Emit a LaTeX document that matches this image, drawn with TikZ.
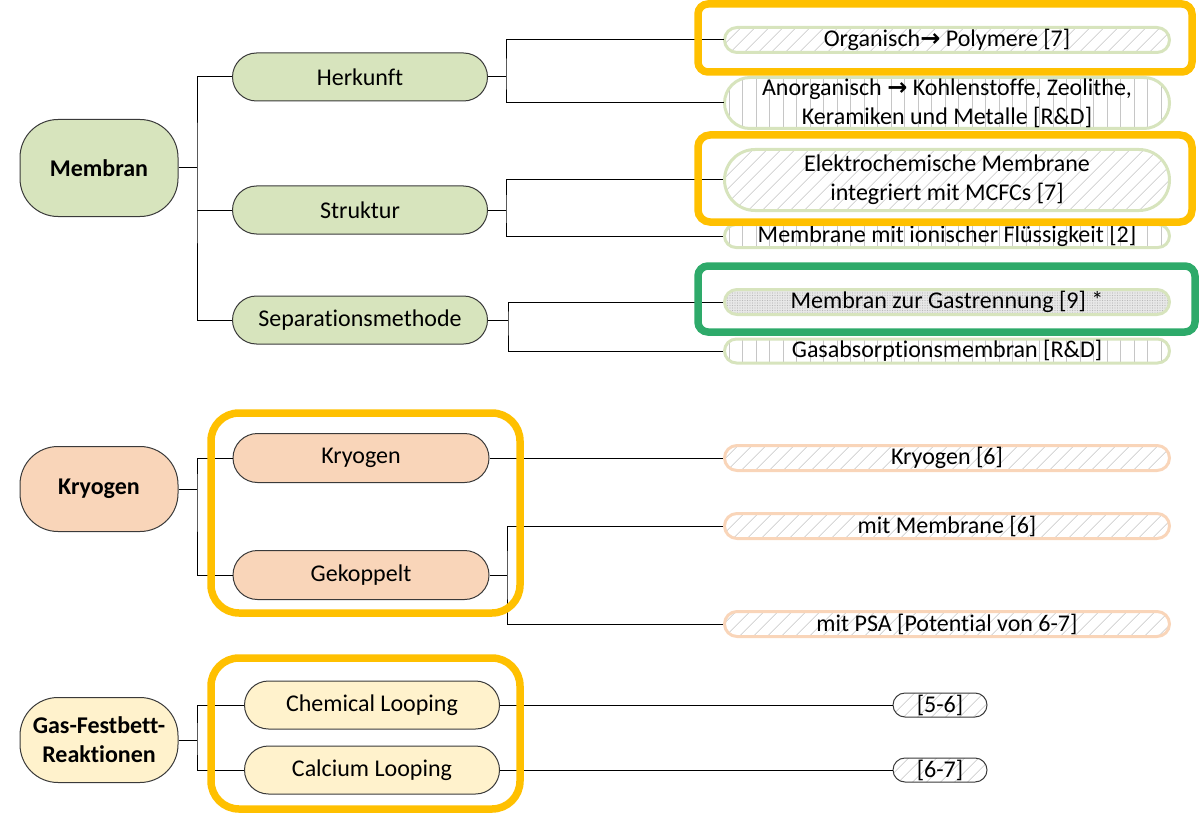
\documentclass[tikz,border=0pt]{standalone}
\usepackage{fontspec}
\setmainfont[Ligatures=CommonOff]{Carlito}
\newfontfamily\symf{DejaVu Sans}
\usetikzlibrary{shapes.misc,patterns.meta}
\definecolor{grn}{HTML}{D7E4BD}
\definecolor{org}{HTML}{F9D5B9}
\definecolor{yel}{HTML}{FFF2CC}
\definecolor{hiO}{HTML}{FFC000}
\definecolor{hiG}{HTML}{2EAA6A}
\definecolor{edge}{HTML}{3A3A3A}
\begin{document}
\begin{tikzpicture}[x=1pt,y=-1pt,
  txt/.style={font=\fontsize{24}{29}\selectfont, align=center},
  root/.style={txt, font=\fontsize{24}{29}\selectfont\bfseries, draw=edge, line width=1pt, rounded corners=38pt, minimum width=158pt, inner sep=0pt},
  child/.style={txt, rounded rectangle, draw=edge, line width=1pt, minimum width=255pt, minimum height=48pt, inner sep=0pt},
  leaf/.style={txt, rounded rectangle, line width=3pt, minimum width=445pt, inner sep=0pt},
  diag/.style={preaction={fill=white}, pattern={Lines[angle=45,distance=10.5pt,line width=0.7pt]}, pattern color=gray!45},
  vert/.style={preaction={fill=white}, pattern={Lines[angle=90,distance=13.5pt,line width=0.7pt]}, pattern color=gray!45},
  dots/.style={preaction={fill=gray!18}, pattern={Dots[distance=2.5pt,radius=0.55pt]}, pattern color=gray!55},
  gleaf/.style={leaf, draw=grn},
  oleaf/.style={leaf, draw=org},
  conn/.style={draw=black, line width=1pt},
  hiliteO/.style={draw=hiO, line width=7.5pt},
  hiliteG/.style={draw=hiG, line width=7.5pt}
]
\useasboundingbox (0,0) rectangle (1201,813);

% ---- Membran ----
\node[root, fill=grn, minimum height=97pt] (mem) at (99,168) {Membran};
\node[child, fill=grn] (her) at (360,77) {Herkunft};
\node[child, fill=grn] (str) at (360,210) {Struktur};
\node[child, fill=grn] (sep) at (360,320) {Separationsmethode};

\node[gleaf, diag, minimum height=25pt] (lorg) at (947,40) {Organisch{\symf\bfseries →} Polymere [7]};
\node[gleaf, vert, minimum height=51pt] (lanorg) at (947,103) {Anorganisch {\symf\bfseries →} Kohlenstoffe, Zeolithe,\\Keramiken und Metalle [R\&D]};
\node[gleaf, diag, minimum height=61pt] (lelek) at (947,180) {Elektrochemische Membrane\\integriert mit MCFCs [7]};
\node[gleaf, vert, minimum height=23pt] (lion) at (947,236) {Membrane mit ionischer Flüssigkeit [2]};
\node[gleaf, dots, minimum height=25pt] (lgas) at (947,302) {Membran zur Gastrennung [9] *};
\node[gleaf, vert, minimum height=24pt] (labs) at (947,351) {Gasabsorptionsmembran [R\&D]};

\coordinate (j1) at (197,168);
\coordinate (j2) at (506,77);
\coordinate (j3) at (506,210);
\coordinate (j4) at (508,320);
\draw[conn] (mem.east) -- (j1);
\draw[conn] (her.west) -| (j1) |- (sep.west);
\draw[conn] (str.west) -- (str.west -| j1);
\draw[conn] (her.east) -- (j2);
\draw[conn] (lorg.west) -| (j2) |- (lanorg.west);
\draw[conn] (str.east) -- (j3);
\draw[conn] (lelek.west) -| (j3) |- (lion.west);
\draw[conn] (sep.east) -- (j4);
\draw[conn] (lgas.west) -| (j4) |- (labs.west);

% ---- Kryogen ----
\node[root, fill=org, minimum height=85pt] (kroot) at (99,489) {Kryogen};
\node[child, fill=org, minimum width=256pt, minimum height=49pt] (kry) at (361,458) {Kryogen};
\node[child, fill=org, minimum width=256pt, minimum height=49pt] (gek) at (361,575) {Gekoppelt};
\node[oleaf, diag, minimum height=25pt] (lk1) at (947,458) {Kryogen [6]};
\node[oleaf, diag, minimum height=25pt] (lk2) at (947,526) {mit Membrane [6]};
\node[oleaf, diag, minimum height=25pt] (lk3) at (947,624) {mit PSA [Potential von 6-7]};

\coordinate (k1) at (197,489);
\coordinate (k2) at (507,575);
\draw[conn] (kroot.east) -- (k1);
\draw[conn] (kry.west) -| (k1) |- (gek.west);
\draw[conn] (kry.east) -- (lk1.west);
\draw[conn] (gek.east) -- (k2);
\draw[conn] (lk2.west) -| (k2) |- (lk3.west);

% ---- Gas-Festbett ----
\node[root, fill=yel, minimum height=85pt] (groot) at (99,740) {Gas-Festbett-\\Reaktionen};
\node[child, fill=yel] (chem) at (372,705) {Chemical Looping};
\node[child, fill=yel] (calc) at (372,770) {Calcium Looping};
\node[leaf, diag, draw=edge, line width=1pt, minimum width=94pt, minimum height=24pt] (lg1) at (940,705) {[5-6]};
\node[leaf, diag, draw=edge, line width=1pt, minimum width=94pt, minimum height=24pt] (lg2) at (940,770) {[6-7]};

\coordinate (g1) at (197,740);
\draw[conn] (groot.east) -- (g1);
\draw[conn] (chem.west) -| (g1) |- (calc.west);
\draw[conn] (chem.east) -- (lg1.west);
\draw[conn] (calc.east) -- (lg2.west);

% ---- Highlight frames ----
\draw[hiliteO, rounded corners=10pt] (698,4) rectangle (1192,72);
\draw[hiliteO, rounded corners=12pt] (698,135) rectangle (1192,222);
\draw[hiliteG, rounded corners=10pt] (698,266) rectangle (1195,332);
\draw[hiliteO, rounded corners=28pt] (211,413) rectangle (520,613);
\draw[hiliteO, rounded corners=28pt] (211,658) rectangle (520,809);
\end{tikzpicture}
\end{document}
